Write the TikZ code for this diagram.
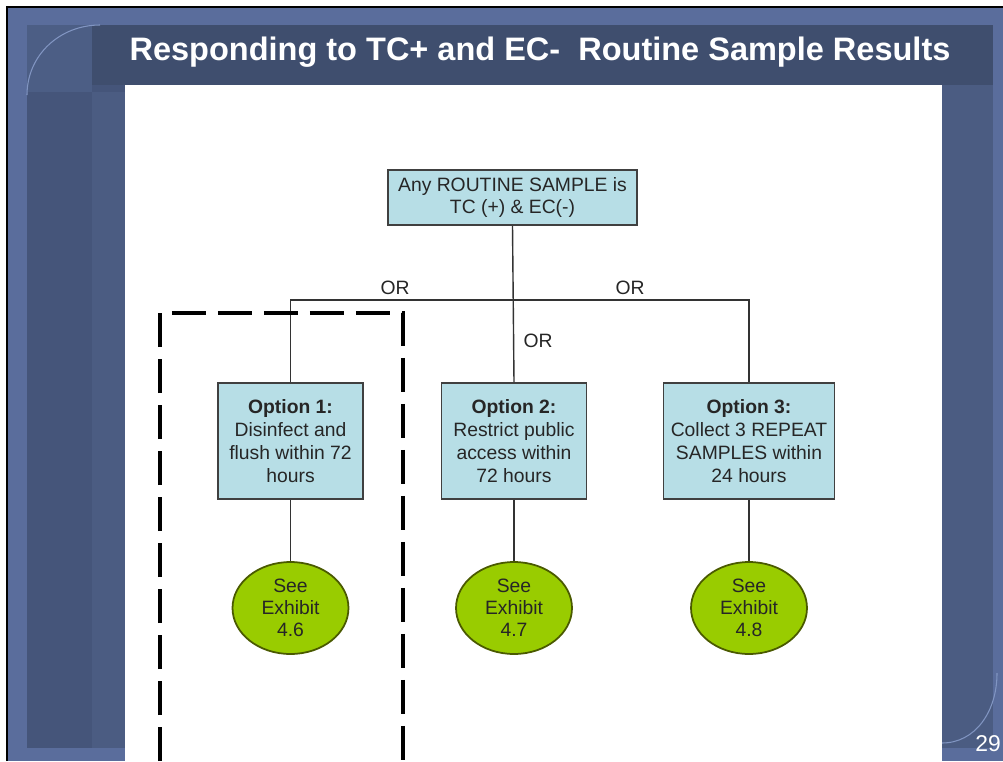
\documentclass[tikz,border=0pt]{standalone}
\usepackage{fontspec}
\setmainfont{Liberation Sans}
\usetikzlibrary{shapes.geometric}
\definecolor{frameblue}{HTML}{5A6D9C}
\definecolor{panelblue}{HTML}{45557A}
\definecolor{barblue}{HTML}{3F4E6E}
\definecolor{colblue}{HTML}{4B5C82}
\definecolor{arcblue}{HTML}{8195C2}
\definecolor{boxfill}{HTML}{B7DEE6}
\definecolor{exfill}{HTML}{99CC00}
\definecolor{exline}{HTML}{4A5A00}
\tikzset{
  optbox/.style={draw=black!75, line width=1pt, fill=boxfill, align=center,
    font=\fontsize{11}{13}\selectfont, text=black!85, inner sep=0pt},
  exhibit/.style={ellipse, draw=exline, line width=1pt, fill=exfill, align=center,
    minimum width=2.32cm, minimum height=1.84cm, inner sep=0pt,
    font=\fontsize{11}{12.5}\selectfont, text=black!85},
  orlabel/.style={font=\fontsize{11}{13}\selectfont, text=black!85}
}
\begin{document}
\begin{tikzpicture}[x=0.02cm, y=-0.02cm]
\useasboundingbox (0,0) rectangle (1003,761);
% slide background
\fill[white] (0,0) rectangle (1003,761);
\fill[frameblue] (7,7) rectangle (1003,761);
\fill[panelblue] (27,25) rectangle (993,748);
\fill[colblue] (92,92) rectangle (125,748);
\fill[colblue] (942,85) rectangle (993,748);
\fill[barblue] (92,25) rectangle (993,85);
\fill[colblue!90!frameblue] (27,25) rectangle (92,92);
\draw[arcblue, line width=0.6pt] (27,95) .. controls (27,55) and (60,25) .. (100,25);
\draw[arcblue, line width=0.6pt] (942,743) .. controls (975,743) and (997,712) .. (997,673);
\draw[black, line width=1.2pt] (7,761) -- (7,7) -- (1003,7);
\fill[white] (125,85) rectangle (942,761);
\node[text=white, font=\bfseries\fontsize{18.5}{20}\selectfont, anchor=base] (title) at (540,60)
  {Responding to TC+ and EC-\ \ Routine Sample Results};
\node[text=white, font=\fontsize{13}{15}\selectfont] (page) at (988,744) {29};

% flow chart
\node[optbox, minimum width=4.98cm, minimum height=1.1cm] (routine) at (512.5,197.5)
  {Any ROUTINE SAMPLE is\\TC (+) \& EC(-)};
\node[optbox, minimum width=2.9cm, minimum height=2.32cm] (opt1) at (290.5,441)
  {\textbf{Option 1:}\\Disinfect and\\flush within 72\\hours};
\node[optbox, minimum width=2.9cm, minimum height=2.32cm] (opt2) at (514,441)
  {\textbf{Option 2:}\\Restrict public\\access within\\72 hours};
\node[optbox, minimum width=3.42cm, minimum height=2.32cm] (opt3) at (749,441)
  {\textbf{Option 3:}\\Collect 3 REPEAT\\SAMPLES within\\24 hours};
\node[exhibit] (ex1) at (290.5,608) {See\\Exhibit\\4.6};
\node[exhibit] (ex2) at (514,608) {See\\Exhibit\\4.7};
\node[exhibit] (ex3) at (749,608) {See\\Exhibit\\4.8};
\coordinate (split) at (514,300);

\draw[black!80, line width=0.8pt] (routine.south) -- (opt2.north);
\draw[black!80, line width=0.8pt] (opt1.north) |- (split) -| (opt3.north);
\draw[black!80, line width=0.8pt] (opt1.south) -- (ex1.north);
\draw[black!80, line width=0.8pt] (opt2.south) -- (ex2.north);
\draw[black!80, line width=0.8pt] (opt3.south) -- (ex3.north);

\node[orlabel] (or1) at (395,288) {OR};
\node[orlabel] (or2) at (630,288) {OR};
\node[orlabel] (or3) at (538,341) {OR};

% dashed frame round option 1
\draw[black, line width=2.2pt, dash pattern=on 0.68cm off 0.24cm]
  (160,761) -- (160,313) -- (403,313) -- (403,761);
\end{tikzpicture}
\end{document}
